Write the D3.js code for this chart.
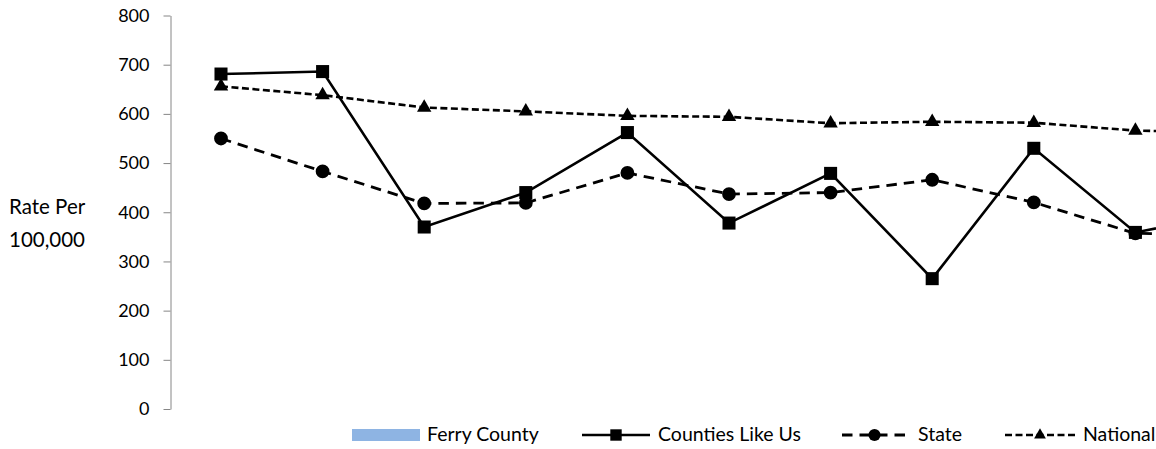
<!DOCTYPE html>
<html>
<head>
<meta charset="utf-8">
<script src="https://cdn.jsdelivr.net/npm/d3@7"></script>
<style>
  html, body { margin: 0; padding: 0; background: #fff; overflow: hidden; }
  svg { display: block; font-family: Lato, "Open Sans", sans-serif; }
</style>
</head>
<body>
<div id="main-container"></div>
<script>
// Data (categories are not labelled in the picture, chart is cropped on the right)
const CATEGORIES = ['2006', '2007', '2008', '2009', '2010', '2011', '2012', '2013', '2014', '2015', '2016'];
const FERRY_COUNTY = [null, null, null, null, null, null, null, null, null, null, null];
const COUNTIES_LIKE_US = [681, 686, 370, 440, 562, 378, 479, 265, 530, 359, 400];
const STATE = [550, 483, 418, 419, 480, 437, 440, 466, 420, 357, 355];
const NATIONAL = [656, 638, 613, 605, 596, 594, 581, 584, 582, 566, 562];
const Y_TICKS = [0, 100, 200, 300, 400, 500, 600, 700, 800];

const SVG_WIDTH = 1156;
const SVG_HEIGHT = 449;

const SVG = d3.select('#main-container').append('svg')
    .attr('width', SVG_WIDTH)
    .attr('height', SVG_HEIGHT);

// Scales
const X = d3.scalePoint()
    .domain(CATEGORIES)
    .range([221, 221 + 10 * 101.6]);

const Y = d3.scaleLinear()
    .domain([0, 800])
    .range([409, 15.5]);

// Y axis
const AXIS = SVG.append('g')
    .attr('transform', 'translate(170.5, 0)')
    .call(d3.axisLeft(Y).tickValues(Y_TICKS).tickSize(7).tickPadding(14).tickSizeOuter(0));

AXIS.select('.domain').attr('stroke', '#868686');
AXIS.selectAll('.tick line').attr('stroke', '#868686');
AXIS.selectAll('.tick text')
    .attr('fill', '#000')
    .style('font-size', '18px')
    .style('font-family', 'Lato, sans-serif');

// Axis title
SVG.append('text')
    .attr('x', 9)
    .attr('y', 214)
    .style('font-size', '20.5px')
    .text('Rate Per');
SVG.append('text')
    .attr('x', 9)
    .attr('y', 247)
    .style('font-size', '20.5px')
    .text('100,000');

// Series
const SERIES = [
    { name: 'Counties Like Us', values: COUNTIES_LIKE_US, dash: null, width: 2.6, symbol: d3.symbolSquare, size: 170, legendSize: 130 },
    { name: 'State', values: STATE, dash: '10.5,7', width: 2.8, symbol: d3.symbolCircle, size: 150, legendSize: 115 },
    { name: 'National', values: NATIONAL, dash: '7,3.5', width: 2.6, symbol: d3.symbolTriangle, size: 90, legendSize: 60 }
];

const LINE = d3.line()
    .defined(d => d != null)
    .x((d, i) => X(CATEGORIES[i]))
    .y(d => Y(d));

// draw national first so counties sit on top
const PLOT = SVG.append('g');
[...SERIES].reverse().forEach(s => {
    PLOT.append('path')
        .datum(s.values)
        .attr('fill', 'none')
        .attr('stroke', '#000')
        .attr('stroke-width', s.width)
        .attr('stroke-dasharray', s.dash)
        .attr('d', LINE);

    PLOT.selectAll(null)
        .data(s.values)
        .join('path')
        .attr('transform', (d, i) => `translate(${X(CATEGORIES[i])}, ${Y(d)})`)
        .attr('d', d3.symbol().type(s.symbol).size(s.size))
        .attr('fill', '#000');
});

// Legend
const LEGEND = SVG.append('g').attr('transform', 'translate(0, 435)');

LEGEND.append('rect')
    .attr('x', 352)
    .attr('y', -6)
    .attr('width', 68)
    .attr('height', 12)
    .attr('fill', '#8eb4e3');
LEGEND.append('text')
    .attr('x', 427)
    .attr('y', 5.5)
    .style('font-size', '19.5px')
    .text('Ferry County');

const LEGEND_POS = [
    { x0: 582, x1: 650, text: 658 },
    { x0: 842, x1: 907, text: 918 },
    { x0: 1005, x1: 1075, text: 1083 }
];

SERIES.forEach((s, i) => {
    const p = LEGEND_POS[i];
    LEGEND.append('line')
        .attr('x1', p.x0)
        .attr('x2', p.x1)
        .attr('stroke', '#000')
        .attr('stroke-width', s.width)
        .attr('stroke-dasharray', s.dash);
    LEGEND.append('path')
        .attr('transform', `translate(${(p.x0 + p.x1) / 2}, 0)`)
        .attr('d', d3.symbol().type(s.symbol).size(s.legendSize))
        .attr('fill', '#000');
    LEGEND.append('text')
        .attr('x', p.text)
        .attr('y', 5.5)
        .style('font-size', '19.5px')
        .text(s.name);
});
</script>
</body>
</html>
